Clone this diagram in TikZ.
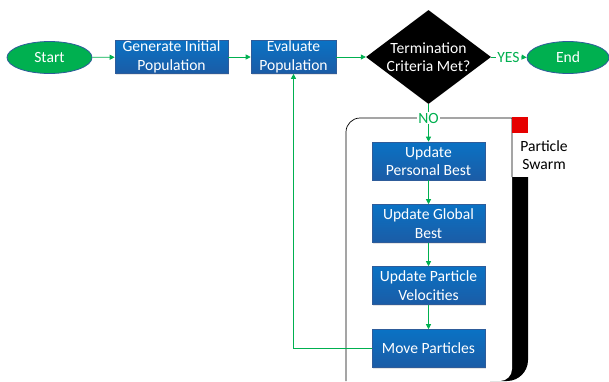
\documentclass[tikz,border=0pt]{standalone}
\usepackage{fontspec}
\setmainfont{Carlito}
\usetikzlibrary{shapes.geometric,arrows.meta,shadows}
\definecolor{grn}{HTML}{00B050}
\definecolor{bluetop}{HTML}{0A72C4}
\definecolor{bluebot}{HTML}{1B5CA6}
\definecolor{blueline}{HTML}{2E5C9A}
\definecolor{swarmred}{HTML}{E60000}
\begin{document}
\begin{tikzpicture}[x=1pt,y=-1pt,
 txt/.style={font=\fontsize{15.6}{18.5}\selectfont},
 proc/.style={txt, draw=blueline, top color=bluetop, bottom color=bluebot, text=white,
   minimum width=113pt, minimum height=37pt, inner sep=0pt, align=center, line width=0.6pt,
   drop shadow={opacity=0.2, shadow xshift=1pt, shadow yshift=-1pt}},
 term/.style={ellipse, txt, draw=blueline, fill=grn, text=white, minimum width=85pt,
   minimum height=32pt, inner sep=0pt, line width=0.8pt},
 flow/.style={draw=grn, line width=0.8pt, -{Triangle[length=5pt,width=5pt]}},
 plain/.style={draw=grn, line width=0.8pt},
 lab/.style={txt, text=grn, fill=white, inner sep=1pt}
]
\useasboundingbox (0,0) rectangle (609,381);

% swarm container
\fill[black] (490,177) -- (528,177) -- (528,360) arc[start angle=0,end angle=90,radius=21] -- (490,381) -- cycle;
\fill[white] (346,381) -- (346,132) arc[start angle=180,end angle=270,radius=14] -- (512,118)
  -- (512,369) arc[start angle=0,end angle=90,radius=12] -- cycle;
\draw[black, line width=0.7pt] (346,381) -- (346,132) arc[start angle=180,end angle=270,radius=14]
  -- (512,118) -- (512,177);
\fill[swarmred] (512,117) rectangle (528,133);
\node[txt, align=center, inner sep=0pt] (swarm) at (544,155) {Particle\\Swarm};

% nodes
\node[term] (start) at (49.5,57.5) {Start};
\node[proc, minimum height=33pt] (gen) at (171.5,57) {Generate Initial\\Population};
\node[proc, minimum width=85pt, minimum height=33pt] (eval) at (293.5,57) {Evaluate\\Population};
\node[diamond, fill=black, minimum width=125pt, minimum height=94pt, inner sep=0pt] (dec) at (428.5,57) {};
\node[txt, text=white, align=center, inner sep=0pt] (dectext) at (dec) {Termination\\Criteria Met?};
\node[term, minimum width=82pt] (end) at (568,57.5) {End};
\node[lab] (yes) at (508.5,57) {YES};
\node[lab] (no) at (428.5,118) {NO};
\node[proc, minimum height=38pt] (upb) at (428.5,161) {Update\\Personal Best};
\node[proc, minimum height=38pt] (ugb) at (428.5,223.5) {Update Global\\Best};
\node[proc, minimum height=38pt] (upv) at (428.5,285.5) {Update Particle\\Velocities};
\node[proc, minimum height=38pt] (mp) at (428.5,348.5) {Move Particles};

% connectors
\draw[flow] (start) -- (gen);
\draw[flow] (gen) -- (eval);
\draw[flow] (eval.east) -- (dec.west);
\draw[plain] (dec.east) -- (yes.west);
\draw[flow] (yes.east) -- (end.west);
\draw[plain] (dec.south) -- (no.north);
\draw[flow] (no.south) -- (upb.north);
\draw[flow] (upb) -- (ugb);
\draw[flow] (ugb) -- (upv);
\draw[flow] (upv) -- (mp);
\draw[flow] (mp.west) -| (eval.south);
\end{tikzpicture}
\end{document}
